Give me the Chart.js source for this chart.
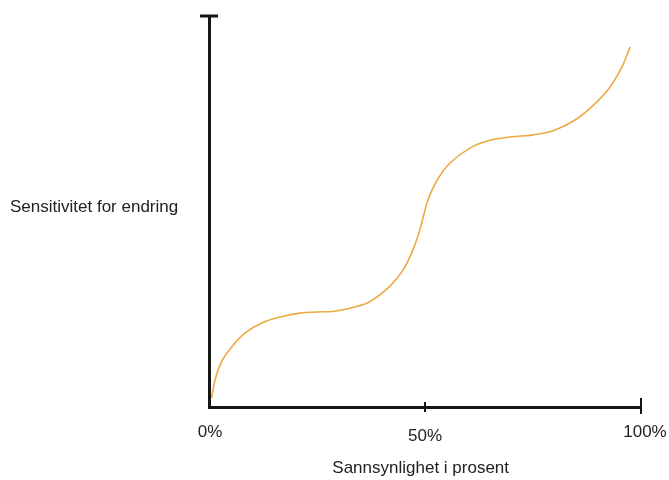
<!DOCTYPE html>
<html>
<head>
<meta charset="utf-8">
<script src="https://cdn.jsdelivr.net/npm/chart.js@4"></script>
<style>
  html, body { margin: 0; padding: 0; background: #fff; }
  #wrap { width: 669px; height: 480px; }
</style>
</head>
<body>
<div id="wrap"><canvas id="myChart" width="669" height="480"></canvas></div>
<script>
// sannsynlighet (%) og sensitivitet, lest av bildet
const probability = [0.6, 1.4, 2.9, 5.3, 8.3, 12.2, 16.8, 21, 25, 29, 33, 37.3, 41.9, 44.9, 47.2, 48.8, 49.8, 50.7, 52.8, 55.8, 60.4, 65, 70, 75, 80, 85, 89, 92.8, 95.6, 97.5];
const sensitivity = [2.3, 6.9, 11.6, 15.4, 18.9, 21.5, 23.1, 24.0, 24.3, 24.5, 25.4, 27.0, 30.9, 35.0, 40.2, 45.3, 49.5, 53.0, 58.0, 62.4, 66.2, 68.2, 69.1, 69.6, 70.8, 73.6, 77.2, 81.8, 87.0, 92.1];
const tickValues = [0, 50, 100];
const tickLabels = ["0%", "50%", "100%"];
const xTitle = "Sannsynlighet i prosent";
const yTitle = "Sensitivitet for endring";

const FONT = '17px "Liberation Sans", Arial, sans-serif';
const AXIS = "#151515";

let pts = [];
for (let i = 0; i < probability.length; i++) {
    pts.push({ x: probability[i], y: sensitivity[i] });
}

const axisExtras = {
    id: "axisExtras",
    afterDraw(chart) {
        const ctx = chart.ctx;
        const xs = chart.scales.x;
        const ys = chart.scales.y;
        const x0 = xs.getPixelForValue(0);
        const yTop = ys.getPixelForValue(100);
        const yBot = ys.getPixelForValue(0);
        ctx.save();
        ctx.strokeStyle = AXIS;
        ctx.lineWidth = 3;
        // topp-strek på y-aksen
        ctx.beginPath();
        ctx.moveTo(x0 - 9, yTop);
        ctx.lineTo(x0 + 9, yTop);
        ctx.stroke();
        // tick-streker på x-aksen
        ctx.lineWidth = 2;
        ctx.beginPath();
        let px = xs.getPixelForValue(50);
        ctx.moveTo(px, yBot - 5);
        ctx.lineTo(px, yBot + 5);
        px = xs.getPixelForValue(100);
        ctx.moveTo(px, yBot - 9);
        ctx.lineTo(px, yBot + 7);
        ctx.stroke();

        ctx.fillStyle = "#222";
        ctx.font = FONT;
        ctx.textAlign = "center";
        ctx.textBaseline = "middle";
        const dx = [1, 0, 4];
        const dy = [0, 4, 0];
        for (let i = 0; i < tickValues.length; i++) {
            ctx.fillText(tickLabels[i], xs.getPixelForValue(tickValues[i]) + dx[i], yBot + 25 + dy[i]);
        }
        ctx.fillText(xTitle, xs.getPixelForValue(49), yBot + 61);
        ctx.textAlign = "left";
        ctx.fillText(yTitle, 10, ys.getPixelForValue(51));
        ctx.restore();
    }
};

new Chart(document.getElementById("myChart"), {
    type: "line",
    data: {
        datasets: [{
            data: pts,
            borderColor: "#EBAA42",
            borderWidth: 1.6,
            pointRadius: 0,
            fill: false,
            tension: 0.4,
            clip: false
        }]
    },
    options: {
        responsive: false,
        animation: false,
        events: [],
        layout: { padding: { left: 209, right: 28, top: 16, bottom: 73 } },
        plugins: { legend: { display: false }, tooltip: { enabled: false } },
        scales: {
            x: {
                type: "linear", min: 0, max: 100,
                ticks: { display: false },
                grid: { drawOnChartArea: false, drawTicks: false },
                border: { display: true, color: AXIS, width: 3 }
            },
            y: {
                type: "linear", min: 0, max: 100,
                ticks: { display: false },
                grid: { drawOnChartArea: false, drawTicks: false },
                border: { display: true, color: AXIS, width: 3 }
            }
        }
    },
    plugins: [axisExtras]
});
</script>
</body>
</html>
